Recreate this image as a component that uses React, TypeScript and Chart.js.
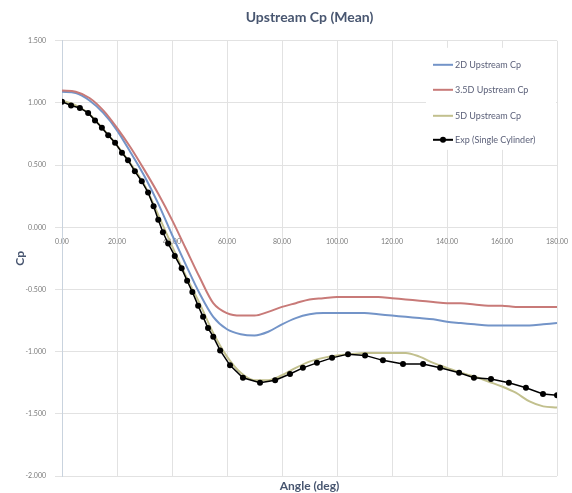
import React, { useEffect, useRef } from 'react';
import { Chart, registerables } from 'chart.js';

Chart.register(...registerables);

// ---------- data ----------
const SERIES_NAMES = ['2D Upstream Cp', '3.5D Upstream Cp', '5D Upstream Cp', 'Exp (Single Cylinder)'];

const ANGLES = [0, 5, 10, 15, 20, 25, 30, 35, 40, 45, 50, 55, 60, 65, 70, 75, 80, 85, 90, 95, 100, 105, 110, 115, 120, 125, 130, 135, 140, 145, 150, 155, 160, 165, 170, 175, 180];

const CP_2D = [1.09, 1.08, 1.02, 0.92, 0.78, 0.60, 0.41, 0.19, -0.06, -0.30, -0.53, -0.72, -0.82, -0.86, -0.87, -0.84, -0.78, -0.73, -0.70, -0.69, -0.69, -0.69, -0.69, -0.70, -0.71, -0.72, -0.73, -0.74, -0.76, -0.77, -0.78, -0.79, -0.79, -0.79, -0.79, -0.78, -0.77];

const CP_35D = [1.10, 1.09, 1.04, 0.94, 0.80, 0.64, 0.46, 0.27, 0.06, -0.17, -0.40, -0.61, -0.69, -0.71, -0.71, -0.68, -0.64, -0.61, -0.58, -0.57, -0.56, -0.56, -0.56, -0.56, -0.57, -0.58, -0.59, -0.60, -0.61, -0.61, -0.62, -0.63, -0.63, -0.64, -0.64, -0.64, -0.64];

const CP_5D = [1.02, 0.98, 0.91, 0.79, 0.66, 0.51, 0.34, 0.10, -0.15, -0.39, -0.61, -0.85, -1.04, -1.17, -1.23, -1.23, -1.19, -1.13, -1.08, -1.05, -1.03, -1.02, -1.01, -1.01, -1.01, -1.01, -1.04, -1.09, -1.13, -1.17, -1.20, -1.24, -1.28, -1.33, -1.40, -1.44, -1.45];

const EXP_ANGLE = [0, 3.3, 6.5, 9.5, 12.0, 14.5, 16.8, 19.3, 21.8, 24.0, 26.5, 29.0, 31.3, 33.3, 35.0, 36.7, 38.6, 41.0, 43.5, 45.5, 47.4, 49.5, 51.3, 53.1, 55.0, 57.5, 61.1, 65.8, 72.0, 77.5, 82.9, 87.6, 92.7, 98.2, 104.0, 110.2, 116.7, 124.0, 131.3, 137.5, 144.4, 149.8, 156.0, 162.5, 168.7, 174.9, 180.0];
const EXP_CP = [1.01, 0.98, 0.96, 0.92, 0.86, 0.80, 0.74, 0.68, 0.60, 0.54, 0.45, 0.37, 0.28, 0.17, 0.06, -0.04, -0.13, -0.23, -0.33, -0.43, -0.52, -0.63, -0.72, -0.81, -0.88, -0.99, -1.11, -1.21, -1.25, -1.23, -1.18, -1.13, -1.09, -1.05, -1.02, -1.03, -1.07, -1.10, -1.10, -1.13, -1.17, -1.21, -1.22, -1.25, -1.29, -1.34, -1.35];

const X_TICKS = [0, 20, 40, 60, 80, 100, 120, 140, 160, 180];
const Y_TICKS = [-2, -1.5, -1, -0.5, 0, 0.5, 1, 1.5];

const TITLE = 'Upstream Cp (Mean)';
const X_TITLE = 'Angle (deg)';
const Y_TITLE = 'Cp';

// ---------- styles ----------
const FONT = 'Lato, "Open Sans", sans-serif';
const TITLE_COLOR = '#485670';
const TICK_COLOR = '#7a7a7a';
const GRID_COLOR = '#e2e2e2';
const COLORS = ['#7394c8', '#c87a78', '#c2c08e', '#000000'];

const legendPlugin = {
  id: 'boxLegend',
  afterDatasetsDraw(chart: any) {
    const { ctx, chartArea } = chart;
    const boxLeft = chartArea.right - 131;
    const boxTop = chartArea.top + 7;
    ctx.save();
    ctx.fillStyle = '#ffffff';
    ctx.fillRect(boxLeft, boxTop, 130, 102);
    const sampleX = chartArea.right - 124;
    const textX = chartArea.right - 102;
    const rows = [24, 49, 75, 99];
    ctx.font = `9px ${FONT}`;
    ctx.textBaseline = 'middle';
    ctx.textAlign = 'left';
    chart.data.datasets.forEach((ds: any, i: number) => {
      const y = chartArea.top + rows[i];
      ctx.strokeStyle = ds.borderColor;
      ctx.lineWidth = 2;
      ctx.beginPath();
      ctx.moveTo(sampleX, y);
      ctx.lineTo(sampleX + 20, y);
      ctx.stroke();
      if (ds.pointRadius > 0) {
        ctx.fillStyle = ds.backgroundColor;
        ctx.beginPath();
        ctx.arc(sampleX + 10, y, 3, 0, Math.PI * 2);
        ctx.fill();
      }
      ctx.fillStyle = '#5a5f78';
      ctx.fillText(ds.label, textX, y);
    });
    ctx.restore();
  },
};

export default function App() {
  const ref = useRef<HTMLCanvasElement>(null);

  useEffect(() => {
    if (!ref.current) return;
    const mk = (xs: number[], ys: number[]) => xs.map((x, i) => ({ x, y: ys[i] }));
    const chart = new Chart(ref.current, {
      type: 'line',
      data: {
        datasets: [
          { label: SERIES_NAMES[0], data: mk(ANGLES, CP_2D), borderColor: COLORS[0], backgroundColor: COLORS[0], borderWidth: 2, pointRadius: 0, cubicInterpolationMode: 'monotone', order: 3 },
          { label: SERIES_NAMES[1], data: mk(ANGLES, CP_35D), borderColor: COLORS[1], backgroundColor: COLORS[1], borderWidth: 2, pointRadius: 0, cubicInterpolationMode: 'monotone', order: 2 },
          { label: SERIES_NAMES[2], data: mk(ANGLES, CP_5D), borderColor: COLORS[2], backgroundColor: COLORS[2], borderWidth: 2, pointRadius: 0, cubicInterpolationMode: 'monotone', order: 1 },
          { label: SERIES_NAMES[3], data: mk(EXP_ANGLE, EXP_CP), borderColor: COLORS[3], backgroundColor: COLORS[3], borderWidth: 1.5, pointRadius: 3, pointBorderWidth: 0, tension: 0, order: 0 },
        ],
      } as any,
      options: {
        responsive: false,
        animation: false,
        layout: { padding: { left: 0, right: 15, top: 0, bottom: 0 } },
        plugins: {
          legend: { display: false },
          tooltip: { enabled: false },
          title: {
            display: true,
            text: TITLE,
            fullSize: false,
            color: TITLE_COLOR,
            font: { family: FONT, size: 14, weight: 'bold' },
            padding: { top: 9, bottom: 15 },
          },
        },
        scales: {
          x: {
            type: 'linear',
            min: 0,
            max: 180,
            position: { y: 0 } as any,
            afterBuildTicks: (s: any) => { s.ticks = X_TICKS.map((v) => ({ value: v })); },
            afterFit: (s: any) => { s.paddingLeft = 0; s.paddingRight = 0; },
            ticks: {
              autoSkip: false,
              maxRotation: 0,
              padding: 10,
              color: TICK_COLOR,
              font: { family: FONT, size: 7 },
              callback: (v: any) => Number(v).toFixed(2),
            },
            grid: { color: GRID_COLOR, drawTicks: false },
            border: { display: false },
          },
          x2: {
            type: 'linear',
            axis: 'x',
            min: 0,
            max: 180,
            position: 'bottom',
            afterFit: (s: any) => { s.height = 17; s.paddingLeft = 0; s.paddingRight = 0; },
            ticks: { display: false },
            grid: { display: false, drawTicks: false },
            border: { display: false },
            title: {
              display: true,
              text: X_TITLE,
              color: TITLE_COLOR,
              font: { family: FONT, size: 12, weight: 'bold' },
              padding: { top: 2, bottom: 0 },
            },
          },
          y: {
            type: 'linear',
            min: -2,
            max: 1.5,
            position: 'left',
            afterBuildTicks: (s: any) => { s.ticks = Y_TICKS.map((v) => ({ value: v })); },
            afterFit: (s: any) => { s.width = 62; s.paddingTop = 0; s.paddingBottom = 0; },
            ticks: {
              padding: 9,
              color: TICK_COLOR,
              font: { family: FONT, size: 7 },
              callback: (v: any) => Number(v).toFixed(3),
            },
            grid: { color: GRID_COLOR, tickLength: 7 },
            border: { color: '#c9d3de' },
            title: {
              display: true,
              text: Y_TITLE,
              color: TITLE_COLOR,
              font: { family: FONT, size: 12, weight: 'bold' },
              padding: { top: 13, bottom: 0 },
            },
          },
        },
      } as any,
      plugins: [legendPlugin],
    });
    return () => chart.destroy();
  }, []);

  return (
    <div style={{ position: 'absolute', left: 0, top: 0, width: 572, height: 493, background: '#fff' }}>
      <canvas ref={ref} width={572} height={493} />
    </div>
  );
}
